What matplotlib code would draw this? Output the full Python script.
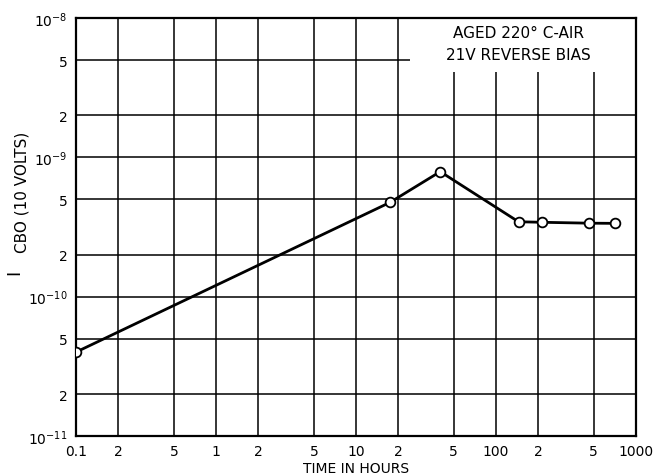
import matplotlib.pyplot as plt
from matplotlib.patches import Rectangle
from matplotlib.ticker import FixedLocator, FixedFormatter, NullFormatter

# data
hours = [0.1, 17.5, 40, 145, 215, 465, 710]
icbo = [4.0e-11, 4.75e-10, 7.9e-10, 3.45e-10, 3.42e-10, 3.37e-10, 3.36e-10]

xticks = [0.1, 0.2, 0.5, 1, 2, 5, 10, 20, 50, 100, 200, 500, 1000]
xlabels = ['0.1', '2', '5', '1', '2', '5', '10', '2', '5', '100', '2', '5', '1000']
yticks = [1e-11, 2e-11, 5e-11, 1e-10, 2e-10, 5e-10, 1e-9, 2e-9, 5e-9, 1e-8]
ylabels = ['$10^{-11}$', '2', '5', '$10^{-10}$', '2', '5',
           '$10^{-9}$', '2', '5', '$10^{-8}$']

plt.rcParams['font.family'] = ['DejaVu Sans']
plt.rcParams['mathtext.default'] = 'regular'

fig = plt.figure(figsize=(6.59, 4.77), dpi=100)
ax = fig.add_axes([0.1153, 0.0839, 0.8497, 0.8761])
ax.set_xscale('log')
ax.set_yscale('log')
ax.set_xlim(0.1, 1000)
ax.set_ylim(1e-11, 1e-8)

ax.xaxis.set_major_locator(FixedLocator(xticks))
ax.xaxis.set_major_formatter(FixedFormatter(xlabels))
ax.xaxis.set_minor_locator(FixedLocator([]))
ax.xaxis.set_minor_formatter(NullFormatter())
ax.yaxis.set_major_locator(FixedLocator(yticks))
ax.yaxis.set_major_formatter(FixedFormatter(ylabels))
ax.yaxis.set_minor_locator(FixedLocator([]))
ax.yaxis.set_minor_formatter(NullFormatter())

ax.tick_params(length=0, labelsize=10, pad=6)
ax.grid(True, which='major', color='black', linewidth=1.1)
for s in ax.spines.values():
    s.set_linewidth(1.6)

ax.plot(hours, icbo, color='black', linewidth=2, marker='o', markersize=7,
        markerfacecolor='white', markeredgecolor='black', markeredgewidth=1.3,
        zorder=3)

# white patch behind the note hides the grid there
ax.add_patch(Rectangle((0.597, 0.871), 0.403, 0.129, transform=ax.transAxes,
                       facecolor='white', edgecolor='none', zorder=2.5))
ax.text(0.79, 0.983, 'AGED 220° C-AIR\n21V REVERSE BIAS', transform=ax.transAxes,
        ha='center', va='top', fontsize=11, linespacing=1.6, zorder=4)

ax.set_xlabel('TIME IN HOURS', fontsize=10, labelpad=2)
fig.text(0.022, 0.43, 'I', rotation=90, fontsize=13, ha='center', va='center')
fig.text(0.034, 0.597, 'CBO (10 VOLTS)', rotation=90, fontsize=11,
         ha='center', va='center')

fig.savefig('out.png', dpi=100)
